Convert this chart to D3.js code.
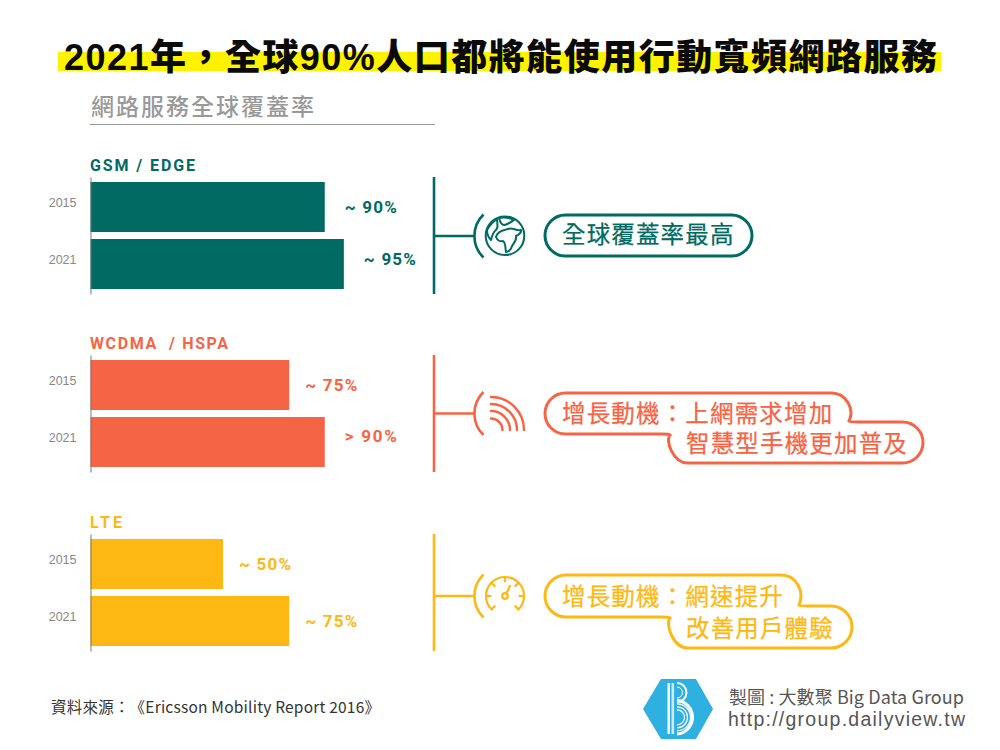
<!DOCTYPE html>
<html><head><meta charset="utf-8">
<script src="https://cdn.jsdelivr.net/npm/d3@7/dist/d3.min.js"></script>
<style>html,body{margin:0;background:#fff}svg{display:block}text{text-spacing-trim:space-all;font-feature-settings:"palt" 0}</style></head>
<body><svg id="c" width="1000" height="750"></svg>
<script>
const chartTitle = "2021年，全球90%人口都將能使用行動寬頻網路服務";
const subTitle = "網路服務全球覆蓋率";
const years = ["2015","2021"];
const categories = ["GSM / EDGE","WCDMA  / HSPA","LTE"];
const values2015 = [88.4,75,50];
const values2021 = [95.6,88.4,75];
const valueLabels2015 = ["~ 90%","~ 75%","~ 50%"];
const valueLabels2021 = ["~ 95%","> 90%","~ 75%"];
const colours = ["#006a63","#f56545","#fdb813"];
const notes = [["全球覆蓋率最高"],["增長動機：上網需求增加","智慧型手機更加普及"],["增長動機：網速提升","改善用戶體驗"]];
const sourceText = "資料來源：《Ericsson Mobility Report 2016》";
const creditText = "製圖 : 大數聚 Big Data Group";
const creditUrl = "http://group.dailyview.tw";

const CJK = "'Noto Sans CJK TC','Noto Sans',sans-serif";
const LAT = "Roboto,'Noto Sans',sans-serif";
const svg = d3.select("#c");
svg.append("rect").attr("width",1000).attr("height",750).attr("fill","#fff");

// title
svg.append("rect").attr("x",58).attr("y",52).attr("width",883).attr("height",19).attr("fill","#fff200");
svg.append("text").attr("x",64).attr("y",70).attr("textLength",873).attr("lengthAdjust","spacing")
  .attr("font-family","'Liberation Sans','Noto Sans CJK TC',sans-serif").attr("font-weight",900).attr("font-size",36).attr("fill","#0a0a0a").text(chartTitle);
svg.append("text").attr("x",91).attr("y",115).attr("textLength",223).attr("lengthAdjust","spacing")
  .attr("font-family",CJK).attr("font-weight",500).attr("font-size",23).attr("fill","#999").text(subTitle);
svg.append("line").attr("x1",90).attr("x2",435).attr("y1",124.5).attr("y2",124.5).attr("stroke","#999").attr("stroke-width",1);

const x = d3.scaleLinear().domain([0,100]).range([90.5,355.5]);
const groupTops = [177,355,534];
const bracketMid = [236,413.5,596];
const catWidths = [105,138,32];
const yearLift = -4;

categories.forEach((cat,i)=>{
  const top = groupTops[i], col = colours[i];
  const y = d3.scaleBand().domain(years).range([top,top+117]).paddingInner(7/57).paddingOuter(5/57);
  const g = svg.append("g");
  g.append("text").attr("x",90).attr("y",top-6).attr("font-family",LAT).attr("font-weight",700)
    .attr("font-size",16).attr("textLength",catWidths[i]).attr("lengthAdjust","spacing").style("white-space","pre")
    .attr("fill",col).text(cat);
  const vals = [values2015[i],values2021[i]], labs=[valueLabels2015[i],valueLabels2021[i]];
  g.selectAll("rect.bar").data(years).join("rect").attr("class","bar")
    .attr("x",x(0)).attr("y",d=>y(d)).attr("height",y.bandwidth())
    .attr("width",(d,k)=>x(vals[k])-x(0)).attr("fill",col);
  const lift = [[31,26],[31,25],[31,31]][i];
  g.selectAll("text.val").data(years).join("text").attr("class","val")
    .attr("x",(d,k)=>x(vals[k])+(vals[k]>80?20:16)).attr("y",(d,k)=>y(d)+lift[k])
    .attr("font-family",LAT).attr("font-weight",700).attr("font-size",17)
    .attr("textLength",52).attr("lengthAdjust","spacing")
    .attr("fill",col).text((d,k)=>labs[k]);
  const ax = g.append("g").attr("transform","translate(90.5,0)").call(d3.axisLeft(y).tickSize(0).tickPadding(14));
  ax.select(".domain").attr("stroke","#777").attr("stroke-width",1);
  ax.selectAll("text").attr("font-family","'Liberation Sans',Arial,sans-serif").attr("font-size",12.5).attr("fill","#888").attr("y",yearLift);
  // bracket
  const cy = bracketMid[i];
  g.append("line").attr("x1",434).attr("x2",434).attr("y1",top).attr("y2",top+117).attr("stroke",col).attr("stroke-width",2.6);
  g.append("line").attr("x1",434).attr("x2",474).attr("y1",cy).attr("y2",cy).attr("stroke",col).attr("stroke-width",2.6);
  g.append("path").attr("fill","none").attr("stroke",col).attr("stroke-width",2.6)
    .attr("d",`M483.5,${cy-21.5} A30,30 0 0 0 483.5,${cy+21.5}`);
});

function bubble(col,a,b){
  let d;
  if(!b){
    const h=(a.B-a.T)/2;
    d=`M${a.L+h},${a.T}H${a.R-h}A${h},${h} 0 0 1 ${a.R-h},${a.B}H${a.L+h}A${h},${h} 0 0 1 ${a.L+h},${a.T}Z`;
  } else {
    const h=(a.B-a.T)/2, m=(b.B-b.T)/2;
    d=`M${a.L+h},${a.T}H${a.R-h}C${a.R-6},${a.T} ${a.R+3},${a.T+16} ${a.R-3},${b.T-1}Q${a.R-2},${b.T} ${a.R+6},${b.T}`+
      `H${b.R-m}A${m},${m} 0 0 1 ${b.R-m},${b.B}H${b.L+m}C${b.L+6},${b.B} ${b.L-2},${b.T+18} ${b.L+3},${a.B+1}Q${b.L+2},${a.B} ${b.L-6},${a.B}`+
      `H${a.L+h}A${h},${h} 0 0 1 ${a.L+h},${a.T}Z`;
  }
  svg.append("path").attr("d",d).attr("fill","#fff").attr("stroke",col).attr("stroke-width",3);
}
bubble(colours[0],{L:545,R:752,T:215,B:256});
bubble(colours[1],{L:545,R:852,T:393,B:434},{L:667,R:923,T:422,B:463});
bubble(colours[2],{L:545,R:802,T:575,B:617},{L:667,R:852,T:606,B:648});

function noteText(str,xx,yy,col){
  svg.append("text").attr("x",xx).attr("y",yy).attr("textLength",str.length*24.7-1.5).attr("lengthAdjust","spacing")
    .attr("font-family",CJK).attr("font-weight",400).attr("font-size",23.5).attr("fill",col)
    .attr("stroke",col).attr("stroke-width",0.25).text(str);
}
noteText(notes[0][0],562,243,colours[0]);
noteText(notes[1][0],562,422,colours[1]);
noteText(notes[1][1],686,452,colours[1]);
noteText(notes[2][0],562,605,colours[2]);
noteText(notes[2][1],686,637,colours[2]);

// icons
function icon(col,sw){return svg.append("g").attr("fill","none").attr("stroke",col).attr("stroke-width",sw).attr("stroke-linecap","round").attr("stroke-linejoin","round");}
// globe
const gi = icon(colours[0],2);
gi.append("circle").attr("cx",505).attr("cy",235.7).attr("r",19.3);
gi.append("path").attr("d","M496,237 C497,232 503,230 508,229 C512,227 516,231 521,230 C522,233 518,235 516,236 C517,240 514,243 512,246 C511,250 508,252 506,252 C505,247 506,243 503,241 C500,242 497,240 496,237Z");
gi.append("path").attr("d","M499,218 C505,217 510,218 514,220 C510,222 508,225 504,225 C501,225 500,222 499,218Z");
gi.append("path").attr("d","M487,230 C490,225 494,221 497,219 C497,224 499,227 496,230 C493,232 492,236 491,240 C488,237 487,234 487,230Z");
// wifi
const wi = icon(colours[1],2.4);
[33,26,19,11.5].forEach(r=>wi.append("path").attr("d",`M491,${430-r} A${r},${r} 0 0 1 ${491+r},430`));
// gauge
const ga = icon(colours[2],2.2);
const gx=505, gy=596, gr=19;
const pt=(a,r)=>[gx+r*Math.sin(a),gy-r*Math.cos(a)];
const a0=-2.35,a1=2.35;
const p0=pt(a0,gr),p1=pt(a1,gr);
ga.append("path").attr("d",`M${p0} A${gr},${gr} 0 1 1 ${p1}`);
[a0,-1.57,-0.8,0,0.8,1.57,a1].forEach(a=>{const s=pt(a,gr),e=pt(a,gr-4.5);ga.append("line").attr("x1",s[0]).attr("y1",s[1]).attr("x2",e[0]).attr("y2",e[1]);});
ga.append("circle").attr("cx",gx).attr("cy",gy).attr("r",2.8);
ga.append("line").attr("x1",gx+1.4).attr("y1",gy-2.8).attr("x2",gx+5).attr("y2",gy-10);

// footer
svg.append("text").attr("x",51).attr("y",713).attr("textLength",329).attr("lengthAdjust","spacing")
  .attr("font-family",CJK).attr("font-size",15.5).attr("fill","#333").text(sourceText);
svg.append("polygon").attr("points","643,709 661,679 696,679 713,709 696,739 661,739").attr("fill","#2eb0e0");
const lg = svg.append("g").attr("fill","none").attr("stroke","#fff");
lg.append("rect").attr("x",667.5).attr("y",683).attr("width",2.4).attr("height",51).attr("fill","#fff").attr("stroke","none");
lg.append("rect").attr("x",671.5).attr("y",683).attr("width",2.6).attr("height",51).attr("fill","#cfeaf6").attr("stroke","none");
lg.append("path").attr("stroke-width",2).attr("d","M677,683 A9.5,9.5 0 0 1 677,702");
lg.append("path").attr("stroke-width",1).attr("d","M677,687 A5.5,5.5 0 0 1 677,698");
lg.append("path").attr("stroke-width",3).attr("d","M677,700.5 A16.8,16.8 0 0 1 677,734");
[13.5,10.5,7.5].forEach(r=>lg.append("path").attr("stroke-width",1.2).attr("d",`M677,${717.3-r} A${r},${r} 0 0 1 677,${717.3+r}`));
svg.append("text").attr("x",729).attr("y",703.5).attr("textLength",235).attr("lengthAdjust","spacing")
  .attr("font-family",CJK).attr("font-size",18).attr("fill","#555").text(creditText);
svg.append("text").attr("x",728).attr("y",726).attr("textLength",237).attr("lengthAdjust","spacing")
  .attr("font-family","'Liberation Sans',sans-serif").attr("font-size",19.5).attr("fill","#555").text(creditUrl);
</script></body></html>
